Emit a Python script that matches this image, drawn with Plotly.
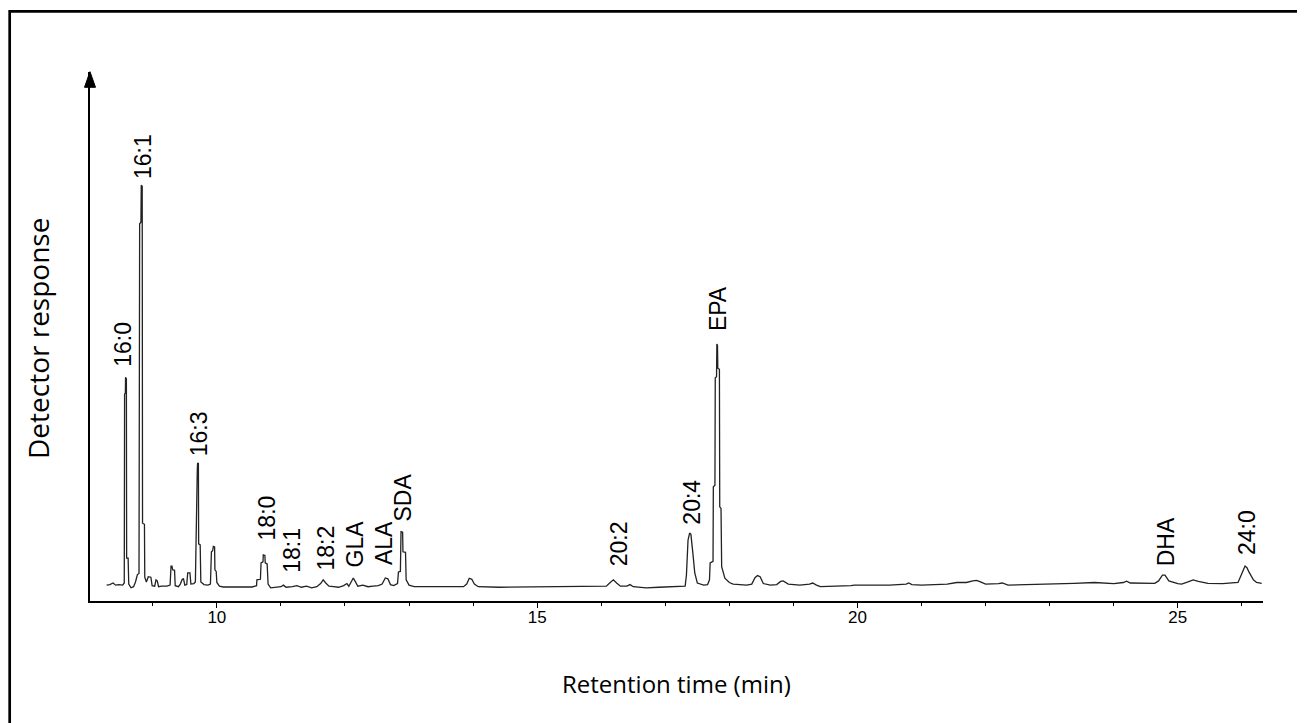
import plotly.graph_objects as go

# ---- data ----
rt_min = [
    8.28, 8.33, 8.38, 8.42, 8.47, 8.53, 8.555, 8.56, 8.572, 8.575, 8.588, 8.592, 8.615, 8.625,
    8.66, 8.70, 8.73, 8.76, 8.785, 8.795, 8.815, 8.82, 8.835, 8.84, 8.87, 8.875, 8.90, 8.93,
    8.97, 8.99, 9.03, 9.05, 9.07, 9.09, 9.14, 9.22, 9.27, 9.285, 9.30, 9.31, 9.34, 9.35,
    9.40, 9.43, 9.46, 9.48, 9.50, 9.53, 9.545, 9.58, 9.595, 9.64, 9.665, 9.675, 9.685, 9.695,
    9.70, 9.712, 9.716, 9.74, 9.75, 9.80, 9.86, 9.90, 9.915, 9.935, 9.945, 9.965, 9.97, 9.99,
    10.00, 10.04, 10.10, 10.55, 10.62, 10.625, 10.68, 10.69, 10.72, 10.725, 10.75, 10.755, 10.785, 10.80,
    10.84, 10.92, 11.00, 11.04, 11.08, 11.18, 11.25, 11.32, 11.40, 11.48, 11.56, 11.62, 11.66, 11.70,
    11.75, 11.82, 11.90, 11.98, 12.03, 12.06, 12.10, 12.13, 12.16, 12.20, 12.28, 12.36, 12.44, 12.52,
    12.58, 12.63, 12.67, 12.71, 12.76, 12.82, 12.835, 12.865, 12.875, 12.90, 12.905, 12.945, 12.955, 13.00,
    13.08, 13.30, 13.60, 13.85, 13.90, 13.94, 13.98, 14.02, 14.08, 14.40, 14.80, 15.20, 15.60, 16.00,
    16.08, 16.14, 16.19, 16.24, 16.30, 16.40, 16.45, 16.50, 16.70, 16.90, 17.20, 17.31, 17.33, 17.355,
    17.38, 17.40, 17.43, 17.46, 17.50, 17.60, 17.66, 17.69, 17.70, 17.745, 17.75, 17.775, 17.78, 17.80,
    17.805, 17.815, 17.82, 17.845, 17.85, 17.87, 17.88, 17.93, 18.00, 18.06, 18.27, 18.35, 18.40, 18.44,
    18.48, 18.53, 18.64, 18.74, 18.80, 18.84, 18.92, 19.10, 19.25, 19.30, 19.36, 19.42, 19.90, 19.95,
    20.50, 20.76, 20.80, 20.85, 21.00, 21.40, 21.55, 21.70, 21.80, 21.86, 21.92, 22.00, 22.20, 22.26,
    22.35, 22.80, 23.25, 23.38, 23.70, 23.80, 24.00, 24.15, 24.20, 24.26, 24.40, 24.64, 24.70, 24.76,
    24.80, 24.86, 25.00, 25.06, 25.16, 25.24, 25.32, 25.47, 25.70, 25.94, 26.00, 26.05, 26.08, 26.11,
    26.18, 26.23, 26.31,
]
response = [
    3.0, 3.1, 3.4, 3.0, 3.1, 3.0, 3.4, 39.1, 39.3, 42.3, 42.0, 8.1, 8.1, 3.2,
    2.5, 2.7, 3.6, 5.0, 5.2, 71.3, 71.6, 78.6, 78.4, 14.7, 14.5, 4.5, 3.6, 4.6,
    4.5, 2.9, 2.8, 4.0, 3.8, 2.7, 2.8, 2.8, 3.0, 6.6, 6.6, 5.9, 5.8, 2.9,
    2.7, 3.2, 4.1, 4.2, 3.0, 3.1, 5.3, 5.3, 3.2, 3.3, 3.6, 10.3, 24.95, 25.0,
    26.1, 26.0, 10.8, 10.6, 3.6, 3.1, 3.0, 3.2, 9.3, 9.5, 10.3, 10.2, 5.9, 5.6,
    3.5, 2.8, 2.65, 2.65, 2.9, 4.0, 4.1, 7.2, 7.4, 8.7, 8.6, 7.2, 7.0, 3.2,
    2.5, 2.6, 2.7, 3.0, 2.6, 2.7, 2.9, 2.6, 2.8, 2.5, 2.7, 3.3, 4.0, 3.4,
    2.8, 2.7, 2.6, 2.9, 3.3, 2.8, 3.8, 4.35, 3.7, 2.8, 3.0, 2.7, 2.8, 2.9,
    3.2, 4.35, 4.2, 3.1, 2.9, 3.3, 5.5, 5.6, 13.1, 13.0, 9.3, 9.2, 4.0, 3.0,
    2.7, 2.65, 2.7, 2.7, 3.2, 4.3, 4.1, 3.2, 2.7, 2.6, 2.65, 2.6, 2.65, 2.7,
    2.8, 3.5, 4.0, 3.4, 2.8, 2.8, 3.1, 2.7, 2.5, 2.6, 2.65, 2.8, 4.9, 11.5,
    12.85, 12.6, 9.1, 5.3, 3.4, 3.0, 3.1, 4.0, 7.2, 7.5, 21.6, 21.9, 42.2, 42.4,
    48.6, 48.3, 44.0, 43.8, 17.8, 17.5, 6.5, 4.3, 3.5, 3.2, 3.0, 3.2, 4.4, 4.8,
    4.6, 3.3, 3.0, 3.1, 3.7, 3.8, 3.2, 3.0, 3.2, 3.4, 3.0, 2.7, 2.9, 3.0,
    3.0, 3.2, 3.4, 3.1, 3.0, 3.2, 3.5, 3.5, 3.8, 3.9, 3.6, 3.2, 3.3, 3.4,
    3.0, 3.1, 3.2, 3.35, 3.5, 3.4, 3.3, 3.5, 3.75, 3.4, 3.35, 3.35, 3.8, 4.9,
    4.9, 3.8, 3.3, 3.2, 3.6, 4.0, 3.7, 3.35, 3.3, 3.5, 5.2, 6.6, 6.3, 5.5,
    4.0, 3.5, 3.35,
]

peak_names = ["16:0", "16:1", "16:3", "18:0", "18:1", "18:2", "GLA", "ALA", "SDA",
              "20:2", "20:4", "EPA", "DHA", "24:0"]
label_rt = [8.535, 8.857, 9.716, 10.785, 11.16, 11.705, 12.16, 12.6, 12.91,
            16.27, 17.42, 17.82, 24.81, 26.08]
label_y = [44.0, 79.4, 27.0, 11.0, 4.9, 5.3, 5.9, 6.5, 14.7,
           6.2, 14.0, 50.7, 6.2, 8.4]

x_ticks = [10, 15, 20, 25]
x_title = "Retention time (min)"
y_title = "Detector response"

# ---- layout geometry (pixels, in page coordinates; the page body adds an 8px offset) ----
OFF = 8
W, H = 1305 - OFF, 723 - OFF
L, R, T, B = 90 - OFF, 1262.7 - OFF, 72 - OFF, 601 - OFF
pw, ph = R - L, B - T


def px(xp):
    return (xp - OFF - L) / pw


def py(yp):
    return (B - (yp - OFF)) / ph


fig = go.Figure()
fig.add_trace(go.Scatter(
    x=rt_min, y=response, mode="lines",
    line=dict(color="#222222", width=1.3),
    hoverinfo="skip", showlegend=False,
))

annotations = []
for name, xv, yv in zip(peak_names, label_rt, label_y):
    annotations.append(dict(
        x=xv, y=yv, xref="x", yref="y", text=name, showarrow=False,
        textangle=-90, xanchor="center", yanchor="bottom",
        font=dict(family="Liberation Sans, Arial", size=23, color="#000000"),
    ))

annotations.append(dict(
    x=0.5, y=py(683), xref="paper", yref="paper", text=x_title, showarrow=False,
    xanchor="center", yanchor="middle",
    font=dict(family="Open Sans", size=24, color="#000000"),
))
annotations.append(dict(
    x=px(38), y=py(338), xref="paper", yref="paper", text=y_title, showarrow=False,
    xanchor="center", yanchor="middle", textangle=-90,
    font=dict(family="Open Sans", size=28, color="#000000"),
))

shapes = [
    # outer frame (only top and left edges visible in the picture)
    dict(type="rect", xref="paper", yref="paper",
         x0=px(9.7), x1=px(1340), y0=py(760), y1=py(11.3),
         line=dict(color="#000000", width=2.7), fillcolor="rgba(0,0,0,0)", layer="above"),
    # arrow head on the y axis
    dict(type="path", xref="paper", yref="paper",
         path=f"M {px(84.5)} {py(87.3)} L {px(90)} {py(71.7)} L {px(95.5)} {py(87.3)} Z",
         line=dict(color="#000000", width=1), fillcolor="#000000", layer="above"),
]

fig.update_layout(
    width=W, height=H,
    margin=dict(l=L, r=W - R, t=T, b=H - B, pad=0),
    paper_bgcolor="white", plot_bgcolor="white",
    annotations=annotations, shapes=shapes,
    xaxis=dict(
        range=[8.02, 26.33], showgrid=False, zeroline=False,
        showline=True, linecolor="#000000", linewidth=1.5,
        ticks="outside", ticklen=5, tickwidth=1.2, tickcolor="#000000",
        tickvals=x_ticks, ticktext=[str(t) for t in x_ticks],
        ticklabelstandoff=-5,
        tickfont=dict(family="Liberation Sans, Arial", size=17, color="#000000"),
        minor=dict(dtick=1, tick0=8, ticks="outside", ticklen=3, tickwidth=1.2,
                   tickcolor="#000000", showgrid=False),
    ),
    yaxis=dict(
        range=[0, 100], showgrid=False, zeroline=False,
        showline=True, linecolor="#000000", linewidth=1.5,
        showticklabels=False, ticks="",
    ),
)

fig.write_html("out.html")
